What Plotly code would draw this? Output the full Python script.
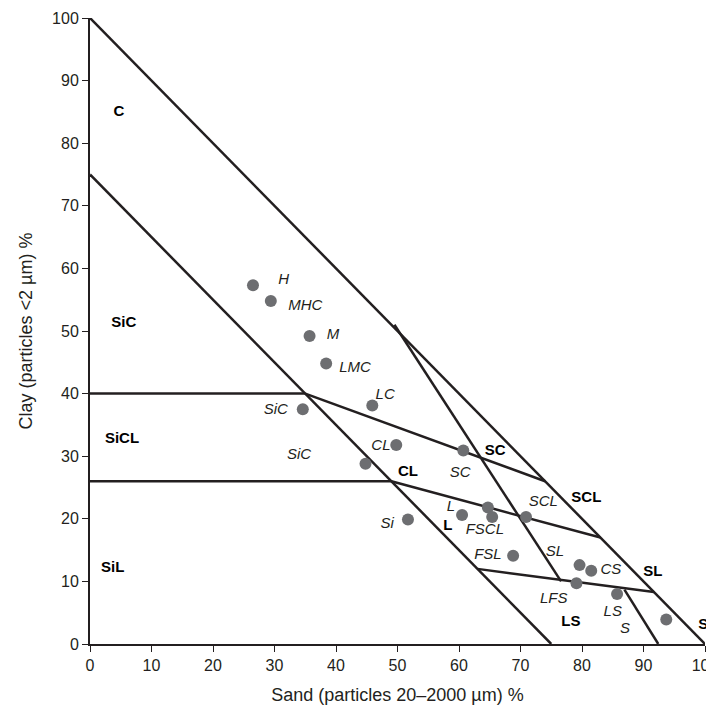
import plotly.graph_objects as go

# boundary segments (sand %, clay %)
seg_x = [[0, 100], [0, 75], [0, 35], [35, 74], [0, 49], [49, 83], [63, 91.7],
         [49.5, 76.6], [86.9, 92.4]]
seg_y = [[100, 0], [75, 0], [40, 40], [40, 26], [26, 26], [26, 17], [12, 8.3],
         [51, 10], [8.7, 0]]

# soil samples
pt_x = [26.5, 29.4, 35.7, 38.4, 45.9, 34.6, 49.8, 44.8, 60.7, 70.9, 60.5, 64.7, 65.4,
        51.7, 68.8, 79.6, 81.5, 79.1, 85.7, 93.7]
pt_y = [57.3, 54.8, 49.2, 44.8, 38.1, 37.5, 31.8, 28.8, 30.9, 20.3, 20.6, 21.8, 20.3,
        19.9, 14.1, 12.6, 11.7, 9.7, 8.0, 3.9]

# italic sample labels
lab_text = ["H", "MHC", "M", "LMC", "LC", "SiC", "SiC", "CL", "SC", "L", "FSCL", "SCL",
            "Si", "FSL", "SL", "CS", "LFS", "LS", "S"]
lab_x = [31.5, 35, 39.5, 43.1, 48, 30.2, 34, 47.3, 60.2, 58.7, 64.2, 73.7,
         48.3, 64.7, 75.6, 84.7, 75.4, 85, 87]
lab_y = [58.1, 54, 49.4, 44.1, 39.8, 37.4, 30.2, 31.6, 27.3, 21.9, 18.2, 22.7,
         19.2, 14.1, 14.7, 11.8, 7.2, 5, 2.4]

# bold class labels
cls_text = ["C", "SiC", "SiCL", "SiL", "CL", "L", "SC", "SCL", "SL", "LS", "S"]
cls_x = [4.7, 5.5, 5.2, 3.7, 51.7, 58.2, 65.9, 80.7, 91.5, 78.2, 99.7]
cls_y = [85, 51.3, 32.7, 12.1, 27.5, 18.8, 30.8, 23.3, 11.5, 3.5, 3.0]

fig = go.Figure()
for sx, sy in zip(seg_x, seg_y):
    fig.add_trace(go.Scatter(x=sx, y=sy, mode="lines", line=dict(color="#231f20", width=2.5),
                             hoverinfo="skip", cliponaxis=False))
fig.add_trace(go.Scatter(x=pt_x, y=pt_y, mode="markers", cliponaxis=False,
                         marker=dict(color="#6d6e71", size=12)))
fig.add_trace(go.Scatter(x=lab_x, y=lab_y, mode="text", text=lab_text, cliponaxis=False,
                         textfont=dict(size=15, color="#231f20", family="Liberation Sans"),
                         texttemplate="<i>%{text}</i>"))
fig.add_trace(go.Scatter(x=cls_x, y=cls_y, mode="text", text=cls_text, cliponaxis=False,
                         textfont=dict(size=15, color="#000", family="Liberation Sans"),
                         texttemplate="<b>%{text}</b>"))

axis = dict(range=[0, 100], dtick=10, showgrid=False, zeroline=False, showline=True,
            linecolor="#231f20", linewidth=2, ticks="outside", ticklen=6,
            tickcolor="#231f20", tickfont=dict(size=16), automargin=False)
fig.update_layout(
    width=714, height=713, showlegend=False,
    plot_bgcolor="white", paper_bgcolor="white",
    margin=dict(l=82, r=17, t=10, b=77),
    font=dict(family="Liberation Sans", color="#231f20"),
    xaxis=dict(axis, title=dict(text="Sand (particles 20–2000 µm) %", font=dict(size=18))),
    yaxis=dict(axis, title=dict(text="Clay (particles <2 µm) %", font=dict(size=18))),
)
fig.write_html("out.html")
